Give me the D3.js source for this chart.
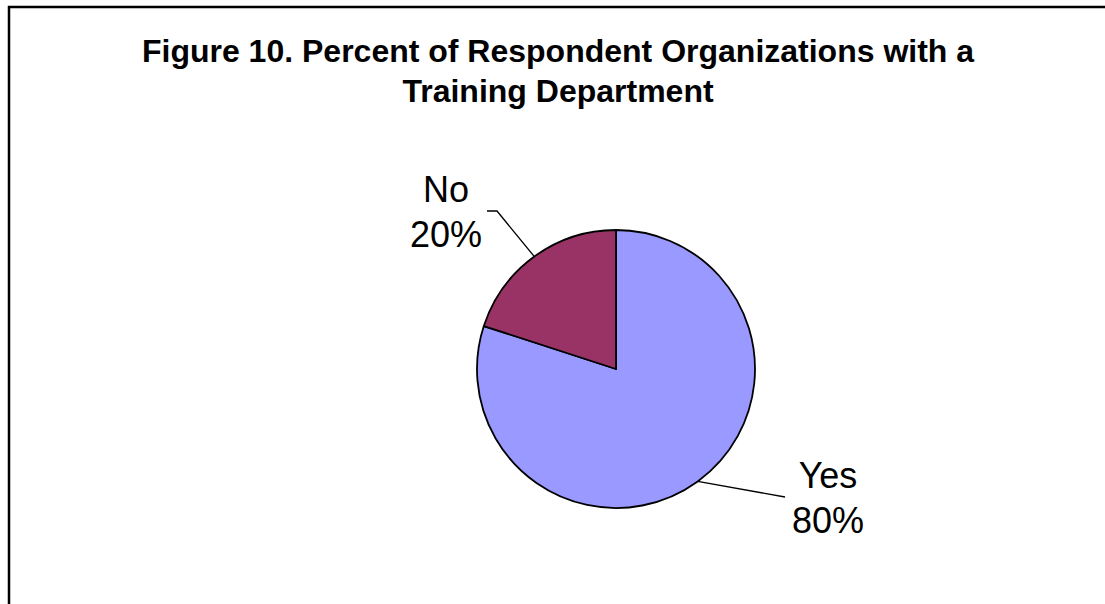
<!DOCTYPE html>
<html>
<head>
<meta charset="utf-8">
<script src="https://cdn.jsdelivr.net/npm/d3@7"></script>
<style>
  html, body { margin: 0; padding: 0; background: #fff; }
  svg { display: block; }
</style>
</head>
<body>
<svg id="chart" width="1105" height="604"></svg>
<script>
// Survey answers and their shares (percent)
const categories = ["Yes", "No"];
const values = [80, 20];
const labelText = ["Yes\n80%", "No\n20%"];
const colors = ["#9999FF", "#993366"];
const titleLines = [
  "Figure 10. Percent of Respondent Organizations with a",
  "Training Department"
];

const W = 1105, H = 604;
const svg = d3.select("#chart");

// Chart area frame (runs off the right and bottom edges)
svg.append("rect")
  .attr("x", 9).attr("y", 7)
  .attr("width", 1200).attr("height", 700)
  .attr("fill", "#fff")
  .attr("stroke", "#000")
  .attr("stroke-width", 2.5);

// Title
const title = svg.append("text")
  .attr("text-anchor", "middle")
  .attr("font-family", "Liberation Sans, Arial, sans-serif")
  .attr("font-weight", "bold")
  .attr("font-size", 32)
  .attr("fill", "#000");
titleLines.forEach((t, i) => {
  title.append("tspan")
    .attr("x", 558)
    .attr("y", 62 + i * 40)
    .text(t);
});

// Pie
const cx = 616, cy = 369, r = 139;
const pie = d3.pie().sort(null).value(d => d)
  .startAngle(0).endAngle(2 * Math.PI);
const arcs = pie(values);
const arc = d3.arc().innerRadius(0).outerRadius(r);

const g = svg.append("g").attr("transform", `translate(${cx},${cy})`);
g.selectAll("path.slice")
  .data(arcs)
  .join("path")
  .attr("class", "slice")
  .attr("d", arc)
  .attr("fill", (d, i) => colors[i])
  .attr("stroke", "#000")
  .attr("stroke-width", 1.8)
  .attr("stroke-linejoin", "round");

// Label placement relative to the pie centre: label centre x, label middle y, leader path
const labelPos = [
  { lx: 212, ly: 128, elbow: null, end: [169, 128] },
  { lx: -170, ly: -158, elbow: [-119, -158], end: [-129, -158] }
];

const labelFont = 36;
arcs.forEach((d, i) => {
  const mid = (d.startAngle + d.endAngle) / 2;
  const sx = r * Math.sin(mid), sy = -r * Math.cos(mid);
  const p = labelPos[i];
  const pts = [[sx, sy]];
  if (p.elbow) pts.push(p.elbow);
  pts.push(p.end);
  g.append("path")
    .attr("d", d3.line()(pts))
    .attr("fill", "none")
    .attr("stroke", "#000")
    .attr("stroke-width", 1.3);

  const lines = labelText[i].split("\n");
  const t = g.append("text")
    .attr("text-anchor", "middle")
    .attr("font-family", "Liberation Sans, Arial, sans-serif")
    .attr("font-size", labelFont)
    .attr("fill", "#000");
  lines.forEach((s, k) => {
    t.append("tspan")
      .attr("x", p.lx)
      .attr("y", p.ly - 9 + k * 45)
      .text(s);
  });
});
</script>
</body>
</html>
